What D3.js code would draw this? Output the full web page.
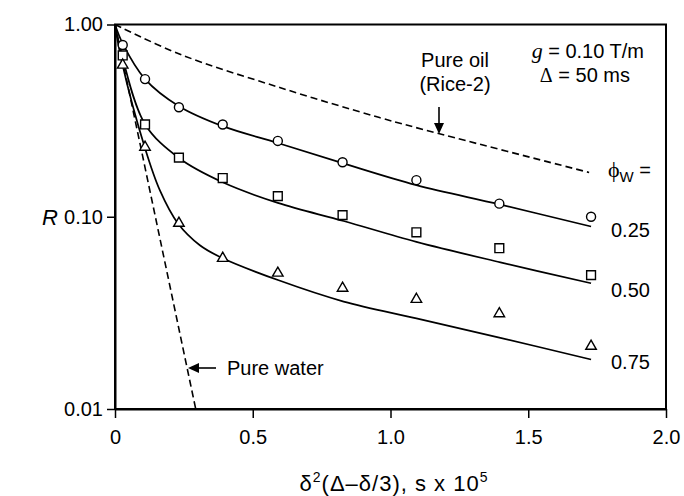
<!DOCTYPE html>
<html>
<head>
<meta charset="utf-8">
<script src="https://cdn.jsdelivr.net/npm/d3@7"></script>
<style>
  body { margin: 0; background: #fff; }
  text { font-family: Arial, "Liberation Sans", sans-serif; fill: #000; }
</style>
</head>
<body>
<svg id="chart" width="684" height="496"></svg>
<script>
// Axis ticks
const xTicks = [0, 0.5, 1.0, 1.5, 2.0];
const xTickLabels = ["0", "0.5", "1.0", "1.5", "2.0"];
const yTicks = [0.01, 0.1, 1];
const yTickLabels = ["0.01", "0.10", "1.00"];

// Measured echo attenuation R vs. δ²(Δ−δ/3) (s × 10^5)
const diffTime = [0.028, 0.109, 0.232, 0.391, 0.591, 0.826, 1.094, 1.395, 1.728];
const rPhi25 = [0.782, 0.520, 0.371, 0.302, 0.248, 0.192, 0.155, 0.117, 0.100];
const rPhi50 = [0.690, 0.302, 0.203, 0.159, 0.128, 0.102, 0.083, 0.0686, 0.0497];
const rPhi75 = [0.615, 0.230, 0.0925, 0.0608, 0.0509, 0.0425, 0.0372, 0.0313, 0.0212];

// Model curves
const fitTime25 = [0, 0.029, 0.109, 0.232, 0.391, 0.591, 0.826, 1.094, 1.395, 1.728];
const fitR25    = [1, 0.790, 0.520, 0.376, 0.296, 0.242, 0.190, 0.146, 0.116, 0.089];
const fitTime50 = [0, 0.025, 0.109, 0.232, 0.391, 0.591, 0.830, 1.094, 1.399, 1.728];
const fitR50    = [1, 0.694, 0.303, 0.202, 0.151, 0.118, 0.0950, 0.0740, 0.0579, 0.0451];
const fitTime75 = [0, 0.025, 0.109, 0.163, 0.228, 0.308, 0.391, 0.594, 0.830, 1.094, 1.391, 1.728];
const fitR75    = [1, 0.638, 0.227, 0.137, 0.0925, 0.0711, 0.0608, 0.0467, 0.0362, 0.0296, 0.0236, 0.0181];

// Bulk fluids
const oilTime = [0, 0.236, 0.598, 0.960, 1.170, 1.721];
const oilR    = [1, 0.700, 0.470, 0.328, 0.272, 0.170];
const waterTime = [0, 0.293];
const waterR    = [1, 0.01];

const phiLabels = ["0.25", "0.50", "0.75"];
const markerShapes = ["circle", "square", "triangle"];

const svg = d3.select("#chart");
const plot = { left: 115, right: 666, top: 24.5, bottom: 409 };

const x = d3.scaleLinear().domain([0, 2]).range([plot.left, plot.right]);
const y = d3.scaleLog().domain([0.01, 1]).range([plot.bottom, plot.top]);

const toPts = (xs, ys) => xs.map((v, i) => [v, ys[i]]);
const line = d3.line().x(d => x(d[0])).y(d => y(d[1]));
const smooth = d3.line().x(d => x(d[0])).y(d => y(d[1])).curve(d3.curveCatmullRom.alpha(0.5));

// Frame
svg.append("rect")
  .attr("x", plot.left).attr("y", plot.top)
  .attr("width", plot.right - plot.left).attr("height", plot.bottom - plot.top)
  .attr("fill", "none").attr("stroke", "#000").attr("stroke-width", 2);

// Axes
const xAxis = d3.axisBottom(x).tickValues(xTicks)
  .tickFormat((d, i) => xTickLabels[i]).tickSize(9).tickSizeOuter(0).tickPadding(12);
const gx = svg.append("g").attr("transform", `translate(0,${plot.bottom})`).call(xAxis);
const yAxis = d3.axisLeft(y).tickValues(yTicks)
  .tickFormat((d, i) => yTickLabels[i]).tickSize(8).tickSizeOuter(0).tickPadding(4);
const gy = svg.append("g").attr("transform", `translate(${plot.left},0)`).call(yAxis);
[gx, gy].forEach(g => {
  g.attr("font-family", "Arial, 'Liberation Sans', sans-serif");
  g.select(".domain").attr("stroke", "#000").attr("stroke-width", 2);
  g.selectAll(".tick line").attr("stroke", "#000").attr("stroke-width", 1.5);
  g.selectAll(".tick text").attr("fill", "#000");
});
gx.attr("font-size", 20);
gy.attr("font-size", 20);

// Bulk water and oil (dashed)
svg.append("path").attr("d", line(toPts(waterTime, waterR)))
  .attr("fill", "none").attr("stroke", "#000").attr("stroke-width", 1.6).attr("stroke-dasharray", "7,4");
svg.append("path").attr("d", smooth(toPts(oilTime, oilR)))
  .attr("fill", "none").attr("stroke", "#000").attr("stroke-width", 1.6).attr("stroke-dasharray", "7,4");

// Model curves
[[fitTime25, fitR25], [fitTime50, fitR50], [fitTime75, fitR75]].forEach(([xs, ys]) => {
  svg.append("path").attr("d", smooth(toPts(xs, ys)))
    .attr("fill", "none").attr("stroke", "#000").attr("stroke-width", 1.7);
});

// Measured points
const symbolFor = { circle: d3.symbolCircle, square: d3.symbolSquare, triangle: d3.symbolTriangle };
const sizeFor = { circle: 64, square: 78, triangle: 48 };
[rPhi25, rPhi50, rPhi75].forEach((vals, k) => {
  const shape = markerShapes[k];
  const sym = d3.symbol().type(symbolFor[shape]).size(sizeFor[shape]);
  svg.append("g").selectAll("path").data(toPts(diffTime, vals)).join("path")
    .attr("transform", d => `translate(${x(d[0])},${y(d[1])})`)
    .attr("d", sym)
    .attr("fill", "#fff").attr("stroke", "#000").attr("stroke-width", 1.4);
});

// Axis titles
svg.append("text").attr("x", 50).attr("y", 225).attr("text-anchor", "middle")
  .attr("font-family", "'Liberation Serif', 'Times New Roman', serif")
  .attr("font-style", "italic").attr("font-size", 22).text("R");

const xt = svg.append("text").attr("x", 394).attr("y", 491).attr("text-anchor", "middle")
  .attr("font-size", 22).attr("letter-spacing", 1);
xt.append("tspan").text("δ");
xt.append("tspan").attr("dy", -9).attr("font-size", 14).text("2");
xt.append("tspan").attr("dy", 9).text("(Δ–δ/3), s x 10");
xt.append("tspan").attr("dy", -9).attr("font-size", 14).text("5");

// Annotations
svg.append("text").attr("x", 455).attr("y", 67).attr("text-anchor", "middle").attr("font-size", 20).text("Pure oil");
svg.append("text").attr("x", 455).attr("y", 91).attr("text-anchor", "middle").attr("font-size", 20).text("(Rice-2)");

const arrowHead = (tx, ty, dir) => {
  const p = dir === "down"
    ? [[tx, ty], [tx - 5, ty - 11], [tx + 5, ty - 11]]
    : [[tx, ty], [tx + 11, ty - 5], [tx + 11, ty + 5]];
  svg.append("path").attr("d", "M" + p.map(q => q.join(",")).join("L") + "Z").attr("fill", "#000");
};
svg.append("line").attr("x1", 439).attr("x2", 439).attr("y1", 107).attr("y2", 124)
  .attr("stroke", "#000").attr("stroke-width", 1.6);
arrowHead(439, 134, "down");

svg.append("line").attr("x1", 197).attr("x2", 216).attr("y1", 368).attr("y2", 368)
  .attr("stroke", "#000").attr("stroke-width", 1.6);
arrowHead(188, 368, "left");
svg.append("text").attr("x", 227).attr("y", 375).attr("font-size", 20).text("Pure water");

const gt = svg.append("text").attr("x", 644).attr("y", 58).attr("text-anchor", "end").attr("font-size", 20);
gt.append("tspan").attr("font-family", "'Liberation Serif', 'Times New Roman', serif").attr("font-style", "italic").attr("font-size", 22).text("g");
gt.append("tspan").text(" = 0.10 T/m");
const dt = svg.append("text").attr("x", 630).attr("y", 82).attr("text-anchor", "end").attr("font-size", 20);
dt.append("tspan").attr("font-family", "'Liberation Serif', 'Times New Roman', serif").text("Δ");
dt.append("tspan").text(" = 50 ms");

const pt = svg.append("text").attr("x", 608).attr("y", 177).attr("font-size", 20);
pt.append("tspan").attr("font-family", "'Liberation Serif', 'Times New Roman', serif").attr("font-size", 22).text("ϕ");
pt.append("tspan").attr("dy", 5).attr("font-size", 15).text("W");
pt.append("tspan").attr("dy", -5).text(" =");

const phiLabelY = [237, 297, 369];
phiLabels.forEach((s, i) => {
  svg.append("text").attr("x", 611).attr("y", phiLabelY[i]).attr("font-size", 20).text(s);
});
</script>
</body>
</html>
